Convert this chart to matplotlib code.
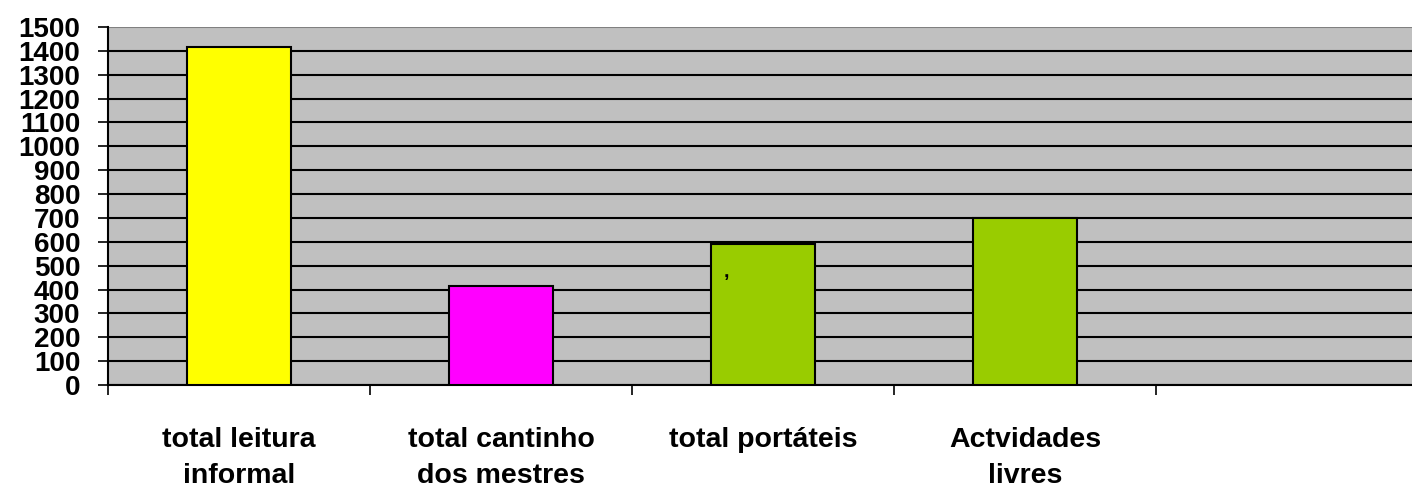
import matplotlib.pyplot as plt
import numpy as np

plt.rcParams['font.family'] = ['Liberation Sans', 'DejaVu Sans']

categories = ['total leitura\ninformal', 'total cantinho\ndos mestres', 'total portáteis', 'Actvidades\nlivres']
values = [1415, 415, 590, 700]
colors = ['#ffff00', '#ff00ff', '#99cc00', '#99cc00']

fig = plt.figure(figsize=(14.12, 4.9), dpi=100)
ax = fig.add_axes([108 / 1412, 105 / 490, 1310 / 1412, 358 / 490])
ax.set_facecolor('#c0c0c0')

x = np.arange(len(categories))
ax.set_axisbelow(True)
ax.yaxis.grid(True, color='black', linewidth=1.5)
ax.bar(x, values, width=0.4, color=colors, edgecolor='black', linewidth=1.5, zorder=3)

# stray comma inside the third bar
ax.text(2 - 0.14, 470, ',', fontsize=14, fontweight='bold', ha='center', va='center', zorder=4)

ax.set_xlim(-0.5, 4.5)
ax.set_ylim(0, 1500)
ax.set_yticks(np.arange(0, 1501, 100))
ax.tick_params(axis='y', direction='out', length=7, width=1.2, pad=13, labelsize=20)
for lab in ax.get_yticklabels():
    lab.set_fontweight('bold')
ax.yaxis.get_gridlines()[-1].set_color('#808080')

ax.set_xticks(x)
ax.set_xticklabels(categories, fontsize=20.5, fontweight='bold', linespacing=1.5)
ax.tick_params(axis='x', length=0, pad=30)
ax.set_xticks(np.arange(-0.5, 4.5, 1), minor=True)
ax.tick_params(axis='x', which='minor', length=7, width=1.2, direction='out')

for s in ['top', 'right']:
    ax.spines[s].set_visible(False)
ax.spines['left'].set_linewidth(1.5)
ax.spines['bottom'].set_linewidth(1.5)

fig.savefig('out.png', dpi=100)
